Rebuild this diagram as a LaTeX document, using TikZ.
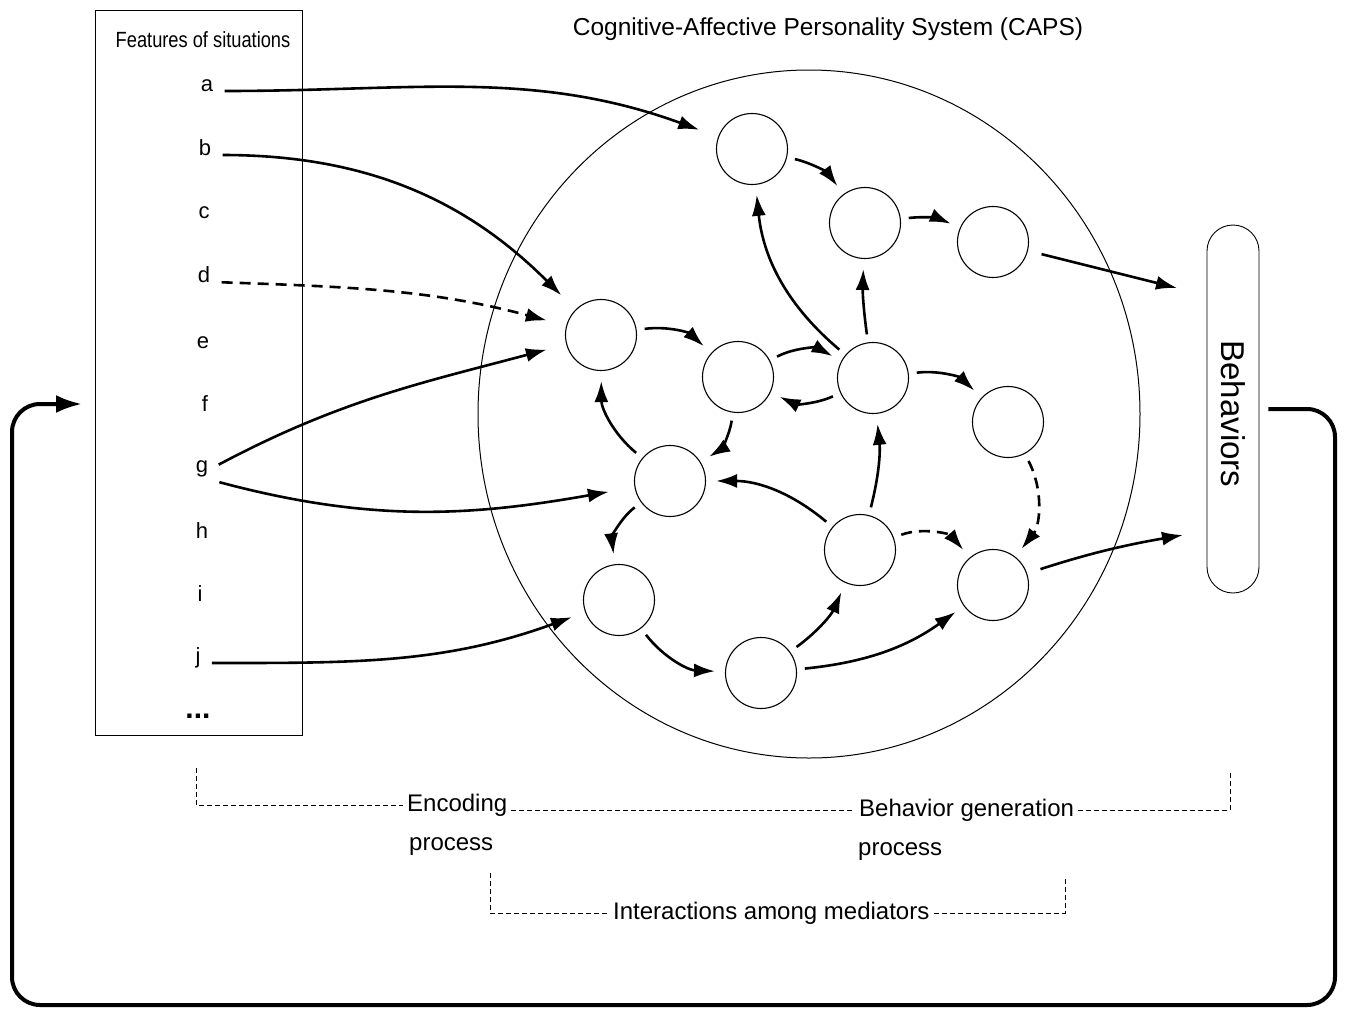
\documentclass[tikz,border=0pt]{standalone}
\usepackage{fontspec}
\setmainfont{Liberation Sans}
\usepackage{tikz}
\usetikzlibrary{arrows}
\usetikzlibrary{arrows.meta}

\begin{document}
\begin{tikzpicture}[
    x=1pt, y=1pt,
    >={Latex[length=21pt, width=14pt]},
    med/.style={circle, draw, line width=1.1pt, minimum size=71pt, inner sep=0pt},
    feat/.style={anchor=base, font=\fontsize{22}{26}\selectfont},
    lbl/.style={anchor=west, inner sep=4pt, font=\fontsize{24}{28}\selectfont},
    brk/.style={line width=1pt, dash pattern=on 5pt off 3pt},
    dsh/.style={dash pattern=on 11pt off 7pt},
    fb/.style={line width=4pt, rounded corners=28pt, -{Latex[length=26pt, width=18pt]}},
    every edge/.append style={draw, line width=2.6pt, shorten >=10pt, shorten <=8pt}
]
\useasboundingbox (0,-1010) rectangle (1345,0);

% Nodes :
\node[draw, line width=0.9pt, minimum width=207pt, minimum height=725pt] (box) at (198.5,-372.5) {};
\node[font=\fontsize{22}{26}\selectfont] (ftitle) at (203,-40) {\scalebox{0.83}[1]{Features of situations}};
\node[feat] (fa) at (207,-91) {a};
\node[feat] (fb) at (205,-155) {b};
\node[feat] (fc) at (204,-218) {c};
\node[feat] (fd) at (204,-282) {d};
\node[feat] (fe) at (203,-348) {e};
\node[feat] (ff) at (205,-411) {f};
\node[feat] (fg) at (202,-472) {g};
\node[feat] (fh) at (202,-538) {h};
\node[feat] (fi) at (200,-601) {i};
\node[feat] (fj) at (198,-663) {j};
\node[feat, font=\fontsize{30}{34}\selectfont\bfseries] (fdots) at (198,-718) {...};

\node[font=\fontsize{24.5}{29}\selectfont] (title) at (828,-29) {Cognitive-Affective Personality System (CAPS)};
\draw[line width=1pt] (809,-414) ellipse [x radius=331pt, y radius=344pt];

\node[med] (m1) at (752,-149) {};
\node[med] (m2) at (865,-223) {};
\node[med] (m3) at (993,-242) {};
\node[med] (m4) at (601,-335) {};
\node[med] (m5) at (738,-377) {};
\node[med] (m6) at (873,-378) {};
\node[med] (m7) at (1008,-422) {};
\node[med] (m8) at (670,-481) {};
\node[med] (m9) at (860,-550) {};
\node[med] (m10) at (993,-585) {};
\node[med] (m11) at (619,-600) {};
\node[med] (m12) at (761,-673) {};

\node[draw, line width=0.9pt, rounded corners=26pt, minimum width=52pt, minimum height=368pt] (beh) at (1233,-409) {};
\node[rotate=-90, font=\fontsize{33}{38}\selectfont] (behtxt) at (1233,-414) {Behaviors};
\coordinate (bin1) at (1177,-288);
\coordinate (bin2) at (1183,-535);

% Edges :
\path[->] (fa.base east) edge[out=0, in=160, shorten >=20pt] (m1);
\path[->] (fb.base east) edge[out=0, in=135, shorten >=20pt] (m4);
\path[->, dsh] (fd.base east) edge[out=-2, in=165, shorten >=20pt] (m4);
\path[->] (fg.east) edge[out=28, in=195, shorten >=20pt] (m4);
\path[->] (fg.south east) edge[out=-15, in=190, shorten >=26pt] (m8);
\path[->] (fj.base east) edge[out=0, in=200, shorten >=14pt] (m11);

\draw[->] (m1) edge[bend left=20] (m2);
\draw[->] (m2) edge[bend left=15] (m3);
\draw[->] (m3) edge[shorten <=14pt, shorten >=0pt] (bin1);
\draw[->] (m4) edge[bend left=25] (m5);
\draw[->] (m5) edge[bend left=28] (m6);
\draw[->] (m6) edge[bend left=25] (m5);
\draw[->] (m5) edge[bend left=25] (m8);
\draw[->] (m8) edge[bend left=25] (m4);
\draw[->] (m6) edge[bend left=22] (m1);
\draw[->] (m6) edge[bend left=5] (m2);
\draw[->] (m6) edge[bend left=25] (m7);
\draw[->, dsh] (m7) edge[bend left=33] (m10);
\draw[->, dsh] (m9) edge[bend left=35] (m10);
\draw[->] (m9) edge[bend right=10] (m6);
\draw[->] (m9) edge[bend right=20] (m8);
\draw[->] (m8) edge[bend right=30] (m11);
\draw[->] (m11) edge[bend right=25] (m12);
\draw[->] (m12) edge[bend right=15] (m9);
\draw[->] (m12) edge[bend right=15] (m10);
\draw[->] (m10) edge[bend left=4, shorten <=14pt, shorten >=0pt] (bin2);

% Feedback loop :
\coordinate (fbBR) at (1335,-1005);
\coordinate (fbBL) at (12,-1005);
\coordinate (fbIn) at (82,-404);
\draw[fb, shorten <=9pt] (beh.east) -| (fbBR) -- (fbBL) |- (fbIn);

% Processes :
\node[lbl] (enc1) at (403,-805) {Encoding};
\node[lbl] (enc2) at (405,-847) {process};
\node[lbl] (bg1) at (855,-810) {Behavior generation};
\node[lbl] (bg2) at (854,-852) {process};
\node[lbl] (intTxt) at (609,-913) {Interactions among mediators};

\coordinate (encTop) at (196,-768);
\coordinate (bgTop) at (1230,-770);
\coordinate (intL) at (490,-873);
\coordinate (intR) at (1065,-878);
\draw[brk] (encTop) |- (enc1.west);
\draw[brk] (enc1.east |- bg1.west) -- (bg1.west);
\draw[brk] (bg1.east) -| (bgTop);
\draw[brk] (intL) |- (intTxt.west);
\draw[brk] (intTxt.east) -| (intR);

\end{tikzpicture}
\end{document}
